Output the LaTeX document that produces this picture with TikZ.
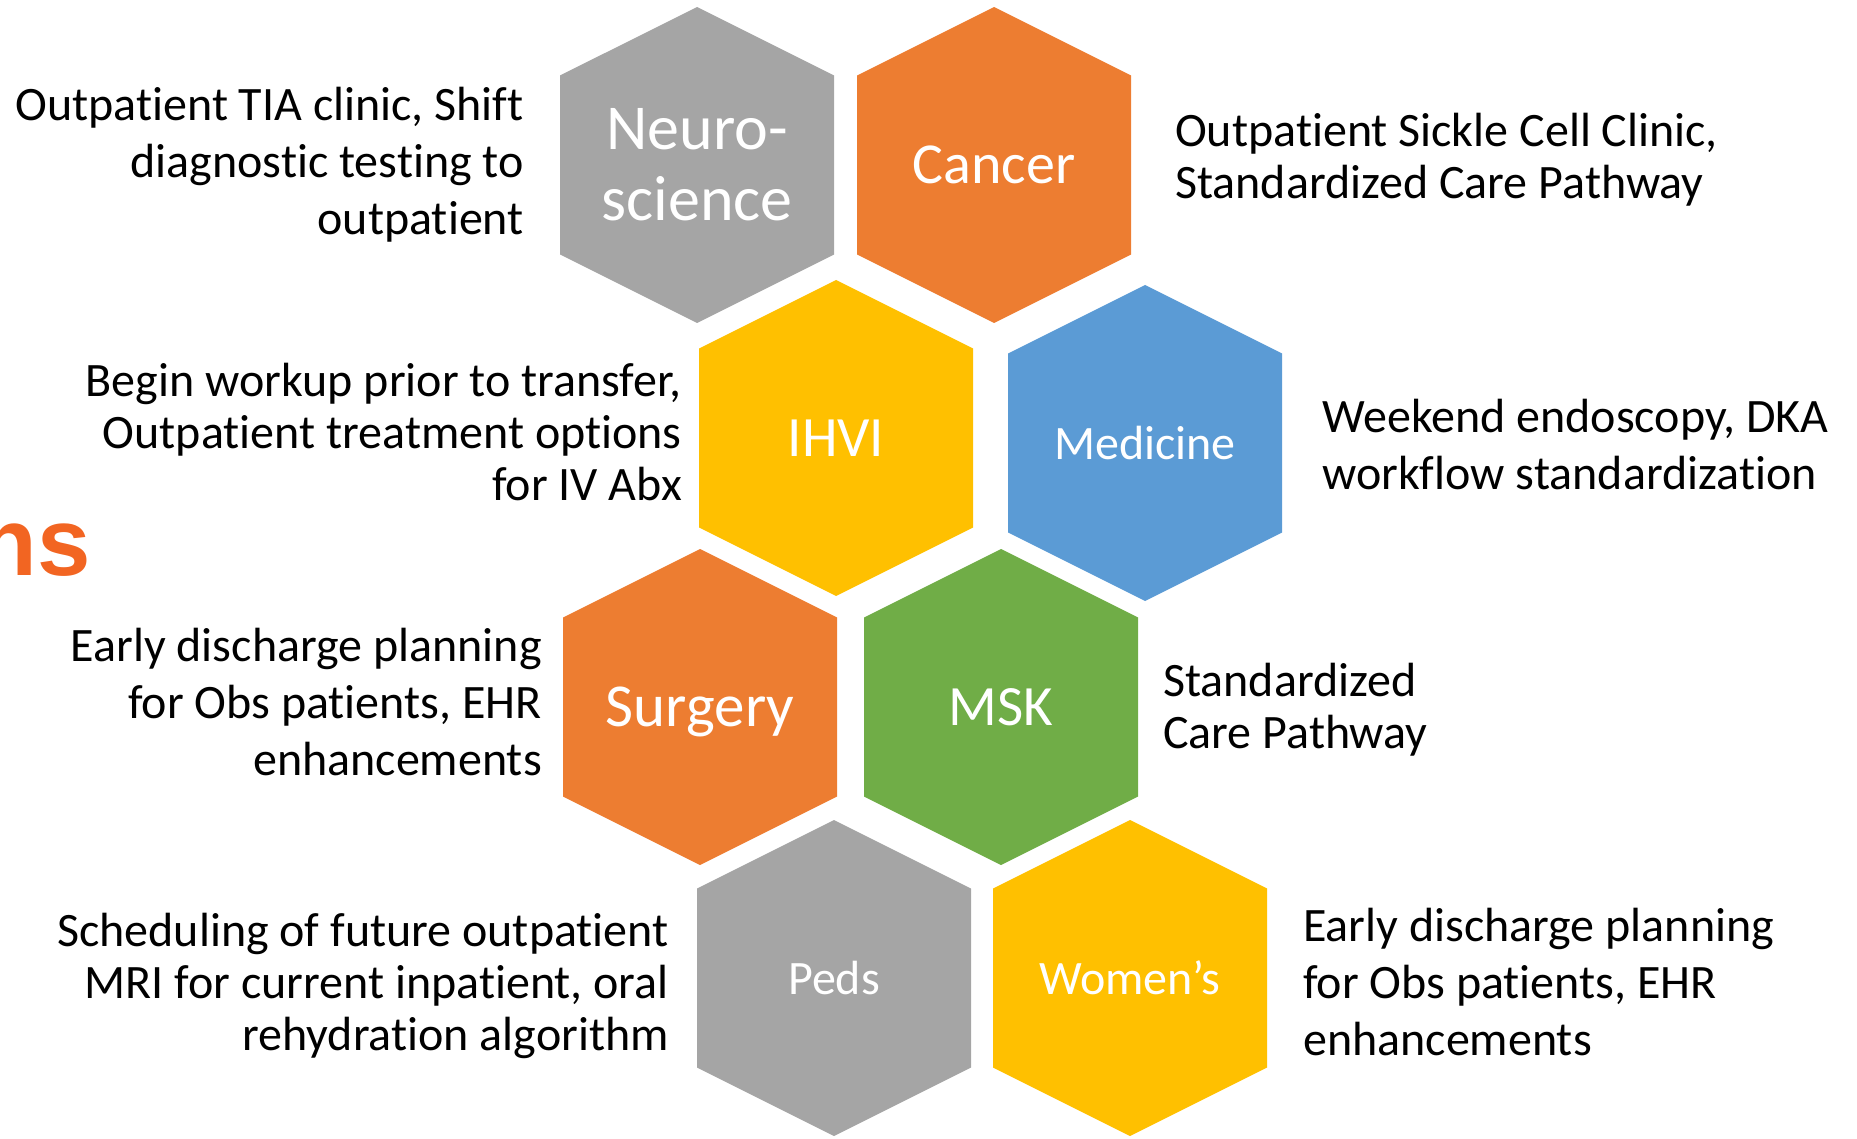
\documentclass[tikz,border=0pt]{standalone}
\usepackage{fontspec}
\setmainfont{Carlito}[Ligatures={TeX,NoCommon}]
\newfontfamily\headfont{Liberation Sans}
\usepackage{xcolor}
\usetikzlibrary{positioning}

\definecolor{grayhex}{HTML}{A5A5A5}
\definecolor{orangehex}{HTML}{ED7D31}
\definecolor{yellowhex}{HTML}{FFC000}
\definecolor{bluehex}{HTML}{5B9BD5}
\definecolor{greenhex}{HTML}{70AD47}
\definecolor{headorange}{HTML}{F26522}

\tikzset{
    hexlabel/.style={text=white, align=center, inner sep=0pt},
    desc/.style={text=black, inner sep=0pt, font=\fontsize{48}{57}\selectfont},
    desctight/.style={desc, font=\fontsize{48}{52}\selectfont}
}

\begin{document}
\begin{tikzpicture}[x=1pt,y=-1pt]
    \useasboundingbox (0,0) rectangle (1857,1139);
    % Honeycomb cells
    \foreach \cx/\cy/\col in {697/165/grayhex, 994/165/orangehex, 836/438/yellowhex, 1145/443/bluehex,
                              700/707/orangehex, 1001/707/greenhex, 834/978/grayhex, 1130/978/yellowhex}
        \fill[\col] (\cx,\cy) ++(0,-158) -- ++(137,68.5) -- ++(0,179) -- ++(-137,68.5)
                    -- ++(-137,-68.5) -- ++(0,-179) -- cycle;
    % Cell labels
    \node[hexlabel, font=\fontsize{64}{71}\selectfont] (neuro) at (697,165) {Neuro-\\science};
    \node[hexlabel, font=\fontsize{58}{64}\selectfont] (cancer) at (994,165) {Cancer};
    \node[hexlabel, font=\fontsize{57}{64}\selectfont] (ihvi) at (836,438) {IHVI};
    \node[hexlabel, font=\fontsize{48}{56}\selectfont] (medicine) at (1145,443) {Medicine};
    \node[hexlabel, font=\fontsize{61}{68}\selectfont] (surgery) at (700,712) {Surgery};
    \node[hexlabel, font=\fontsize{57}{64}\selectfont] (msk) at (1001,707) {MSK};
    \node[hexlabel, font=\fontsize{48}{56}\selectfont] (peds) at (834,978) {Peds};
    \node[hexlabel, font=\fontsize{48}{56}\selectfont] (womens) at (1130,978) {Women’s};
    % Initiatives beside each cell
    \node[desc, anchor=east, align=right] (neurotxt) at (524,165)
        {Outpatient TIA clinic, Shift\\diagnostic testing to\\outpatient};
    \node[desctight, anchor=west, align=left] (cancertxt) at (1175,160)
        {Outpatient Sickle Cell Clinic,\\Standardized Care Pathway};
    \node[desctight, anchor=east, align=right] (ihvitxt) at (682,432)
        {Begin workup prior to transfer,\\Outpatient treatment options\\for IV Abx};
    \node[desc, anchor=west, align=left] (medicinetxt) at (1322,445)
        {Weekend endoscopy, DKA\\workflow standardization};
    \node[desc, anchor=east, align=right] (surgerytxt) at (542,702)
        {Early discharge planning\\for Obs patients, EHR\\enhancements};
    \node[desctight, anchor=west, align=left] (msktxt) at (1163,710)
        {Standardized\\Care Pathway};
    \node[desctight, anchor=east, align=right] (pedstxt) at (669,986)
        {Scheduling of future outpatient\\MRI for current inpatient, oral\\rehydration algorithm};
    \node[desc, anchor=west, align=left] (womenstxt) at (1303,982)
        {Early discharge planning\\for Obs patients, EHR\\enhancements};
    % Tail of the slide heading
    \node[text=headorange, font=\headfont\bfseries\fontsize{96}{96}\selectfont,
          anchor=base east, inner sep=0pt] (heading) at (91,575) {ns};
\end{tikzpicture}
\end{document}
